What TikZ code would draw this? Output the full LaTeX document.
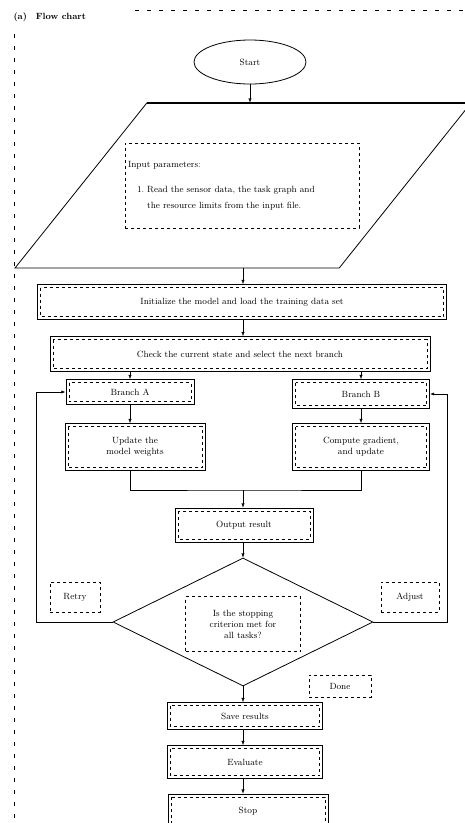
\documentclass[tikz,border=0pt]{standalone}
\usetikzlibrary{positioning,arrows.meta,shapes.geometric}

\begin{document}
\begin{tikzpicture}[x=1pt,y=-1pt,font=\small,>={Latex[length=1.5mm]},
  box/.style={draw,thick,align=center,inner sep=2pt,
    path picture={\draw[dashed] ([shift={(3pt,-3pt)}]path picture bounding box.north west) rectangle ([shift={(-3pt,3pt)}]path picture bounding box.south east);}},
  inbox/.style={draw,dashed,thick,align=left,inner sep=3pt},
  lbl/.style={draw,dashed,align=center,inner sep=2pt},
  frame/.style={dash pattern=on 4pt off 8pt,thick}]
  \useasboundingbox (0,0) rectangle (465,823);
  % outer frame and title
  \node[anchor=west,font=\small\bfseries] (ttl) at (10,17) {(a)\quad Flow chart};
  \draw[frame] (14,830) -- (14,32);
  \draw[frame] (135,10) -- (470,10);
  % start and input
  \node[draw,thick,ellipse,minimum width=112,minimum height=44] (start) at (250,62) {Start};
  \node[draw,thick,trapezium,trapezium stretches=true,trapezium left angle=55.6,trapezium right angle=124.4,
    minimum width=456,minimum height=165] (inp) at (243,185.5) {};
  \draw[line width=2.2pt] (inp.top left corner) -- (inp.top right corner);
  \node[inbox,text width=228pt,inner ysep=1pt,minimum height=85] (intxt) at (242,185.5)
    {Input parameters:\\[14pt]
     \hspace*{1em}1.~\parbox[t]{180pt}{\baselineskip=16pt Read the sensor data, the task graph and the resource limits from the input file.}\\[4pt]};
  % preparation
  \node[box,minimum width=409,minimum height=35] (prep) at (242,302) {Initialize the model and load the training data set};
  \node[box,minimum width=380,minimum height=35] (chk) at (240,354) {Check the current state and select the next branch};
  % two branches
  \node[box,minimum width=128,minimum height=25] (la) at (130,392) {Branch A};
  \node[box,minimum width=140,minimum height=47] (lb) at (135,447) {Update the\\model weights};
  \node[box,minimum width=137,minimum height=29] (ra) at (361,394) {Branch B};
  \node[box,minimum width=137,minimum height=47] (rb) at (361,447) {Compute gradient,\\and update};
  \coordinate (jn) at (243,490);
  \node[box,minimum width=138,minimum height=34] (res) at (244,525) {Output result};
  % decision
  \node[draw,thick,diamond,aspect=2,minimum width=260,minimum height=128] (dec) at (243,622) {};
  \node[inbox,align=center,minimum width=115,minimum height=55] (dectxt) at (243,624)
    {Is the stopping\\criterion met for\\all tasks?};
  \node[lbl,minimum width=50,minimum height=30] (lno) at (75,597) {Retry};
  \node[lbl,minimum width=58,minimum height=30] (rno) at (410,597) {Adjust};
  \node[lbl,minimum width=62,minimum height=22] (yes) at (340,686) {Done};
  % end steps
  \node[box,minimum width=155,minimum height=27] (save) at (245,716) {Save results};
  \node[box,minimum width=155,minimum height=33] (eval) at (245,762) {Evaluate};
  \node[box,minimum width=160,minimum height=34] (stop) at (248,811) {Stop};
  % connectors
  \draw[->] (start.south) -- (start.south |- inp.north);
  \draw[->] (inp.south) -- (prep.north -| inp.south);
  \draw[->] (prep.south -| inp.south) -- (chk.north -| inp.south);
  \draw[->] (chk.south -| la.north) -- (la.north);
  \draw[->] (chk.south -| ra.north) -- (ra.north);
  \draw[->] (la.south) -- (la.south |- lb.north);
  \draw[->] (ra.south) -- (rb.north);
  \draw[thick] (lb.south -| la.south) |- (jn) -| (rb.south);
  \draw[->] (jn) -- (jn |- res.north);
  \draw[->] (res.south -| jn) -- (dec.north);
  \draw[->,thick] (dec.west) -- (36,622) |- (la.west);
  \draw[->,thick] (dec.east) -- (447,622) |- (ra.east);
  \draw[->] (dec.south) -- (save.north -| dec.south);
  \draw[->] (save.south -| dec.south) -- (eval.north -| dec.south);
  \draw[->] (eval.south -| dec.south) -- (stop.north -| dec.south);
\end{tikzpicture}
\end{document}
